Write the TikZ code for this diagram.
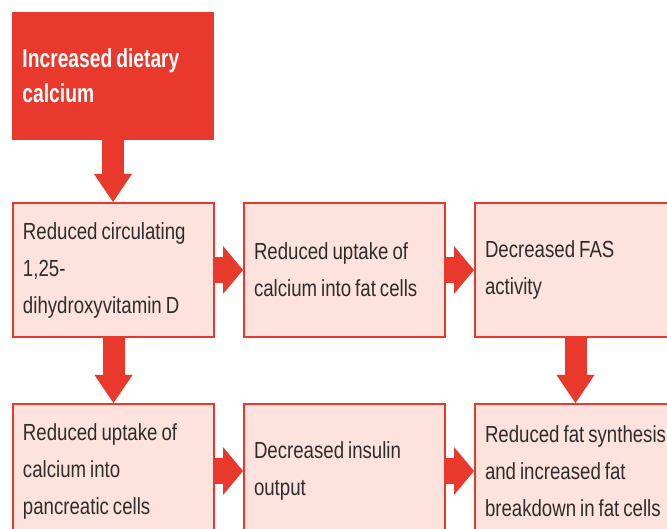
\documentclass[tikz,border=0pt]{standalone}
\usepackage{fontspec}
\setmainfont{Liberation Sans}
\newfontfamily\condfont[FakeStretch=0.80]{Liberation Sans}
\newfontfamily\condbold[FakeStretch=0.74]{Liberation Sans Bold}
\newcommand\myboxfont{\condfont\fontsize{23.3}{37}\selectfont}
\newcommand\mytopfont{\condbold\fontsize{26}{35}\selectfont}
\newcommand\mytightsp{\spaceskip=4pt plus 1pt minus 1pt\relax\xspaceskip=4pt\relax\hyphenpenalty=10000\relax\exhyphenpenalty=10000\relax}
\usetikzlibrary{arrows.meta}
\definecolor{cred}{RGB}{232,57,44}
\definecolor{cpink}{RGB}{253,226,221}
\definecolor{ctext}{RGB}{45,45,45}
\begin{document}
\begin{tikzpicture}[x=1pt,y=-1pt,
  box/.style={draw=cred, line width=2pt, fill=cpink, minimum width=201pt,
    minimum height=134pt, anchor=north west, inner xsep=10pt, inner ysep=0pt,
    text width=181pt, align=left, text=ctext, font=\myboxfont,
    execute at begin node=\mytightsp},
  topbox/.style={draw=cred, fill=cred, line width=1pt, minimum width=201pt,
    minimum height=127pt, anchor=north west, inner xsep=10pt, inner ysep=0pt,
    text width=181pt, align=left, text=white, font=\mytopfont,
    execute at begin node=\mytightsp},
  varrow/.style={draw=cred, line width=22pt,
    -{Triangle[width=38pt,length=28pt,line width=0pt]}},
  harrow/.style={draw=cred, line width=26pt,
    -{Triangle[width=48pt,length=20pt,line width=0pt]}}]
\useasboundingbox (0,0) rectangle (667,529);
\clip (0,0) rectangle (667,529);
\fill[white] (0,0) rectangle (667,529);

\node[topbox] (top) at (12,12) {Increased dietary\\calcium};

\node[box] (a) at (12,202) {Reduced circulating\\1,25-\\dihydroxyvitamin D};
\node[box] (b) at (243,202) {Reduced uptake of\\calcium into fat cells};
\node[box] (c) at (474,202) {Decreased FAS\\activity};

\node[box] (d) at (12,403) {Reduced uptake of\\calcium into\\pancreatic cells};
\node[box] (e) at (243,403) {Decreased insulin\\output};
\node[box] (f) at (474,403) {\mbox{Reduced fat synthesis}\\and increased fat\\\mbox{breakdown in fat cells}};

\draw[varrow] (top.south) -- (top.south |- a.north);
\draw[varrow] (a.south) -- (a.south |- d.north);
\draw[varrow] (c.south) -- (c.south |- f.north);
\draw[harrow] (a.east) -- (a.east -| b.west);
\draw[harrow] (b.east) -- (b.east -| c.west);
\draw[harrow] (d.east) -- (d.east -| e.west);
\draw[harrow] (e.east) -- (e.east -| f.west);
\end{tikzpicture}
\end{document}
